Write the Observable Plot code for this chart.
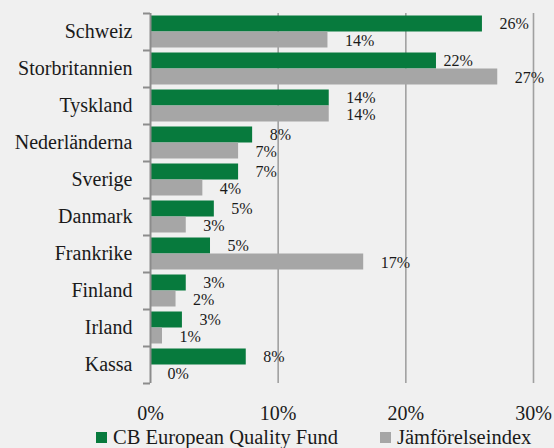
<!DOCTYPE html>
<html><head><meta charset="utf-8">
<script src="https://cdn.jsdelivr.net/npm/d3@7"></script>
<script src="https://cdn.jsdelivr.net/npm/@observablehq/plot@0.6"></script>
<style>
body{margin:0;background:#f0f0f0;font-family:"Liberation Serif",serif;}
#chart svg{display:block;}
.legend{display:flex;align-items:center;padding-left:96px;height:23px;line-height:23px;font-size:20.5px;color:#1a1a1a;}
.sw{display:inline-block;width:11px;height:11px;margin-right:6px;}
</style></head><body>
<div id="chart"></div>
<div class="legend">
  <span class="sw" style="background:#077a3d"></span><span id="l1"></span>
  <span class="sw" style="background:#a6a6a6;margin-left:42px"></span><span id="l2"></span>
</div>
<script>
const countries = ["Schweiz","Storbritannien","Tyskland","Nederländerna","Sverige","Danmark","Frankrike","Finland","Irland","Kassa"];
const fund = [26.0, 22.4, 14.0, 8.0, 6.9, 5.0, 4.7, 2.8, 2.5, 7.5];
const benchmark = [13.9, 27.2, 14.0, 6.9, 4.1, 2.8, 16.7, 2.0, 0.94, 0];
const seriesNames = ["CB European Quality Fund", "Jämförelseindex"];
const xTicks = [0, 10, 20, 30];

document.getElementById("l1").textContent = seriesNames[0];
document.getElementById("l2").textContent = seriesNames[1];

const data = countries.map((c, i) => ({country: c, fund: fund[i], bench: benchmark[i]}));
const pct = v => Math.round(v) + "%";
const green = "#077a3d", gray = "#a6a6a6", axisGray = "#8c8c8c";

const chart = Plot.plot({
  width: 554,
  height: 426,
  marginTop: 13,
  marginBottom: 43,
  marginLeft: 150,
  marginRight: 21,
  style: {background: "transparent", fontFamily: "'Liberation Serif', serif", color: "#1a1a1a"},
  x: {domain: [0, 30]},
  y: {domain: countries, padding: 0},
  marks: [
    Plot.ruleX(xTicks.slice(1), {stroke: "#a0a0a0", strokeWidth: 1.6}),
    Plot.barX(data, {y: "country", x: "fund", fill: green, insetTop: 2.5, insetBottom: 18.5}),
    Plot.barX(data, {y: "country", x: "bench", fill: gray, insetTop: 18.5, insetBottom: 2.5}),
    Plot.text(data.filter(d => d.country !== "Storbritannien"), {y: "country", x: "fund", text: d => pct(d.fund), dx: 17, dy: -8.5, textAnchor: "start", fontSize: 16}),
    Plot.text(data.filter(d => d.country === "Storbritannien"), {y: "country", x: "fund", text: d => pct(d.fund), dx: 7, dy: -8.5, textAnchor: "start", fontSize: 16}),
    Plot.text(data, {y: "country", x: "bench", text: d => pct(d.bench), dx: 17, dy: 8.5, textAnchor: "start", fontSize: 16}),
    Plot.ruleX([0], {stroke: axisGray, strokeWidth: 2}),
    Plot.axisY({tickSize: 0, tickPadding: 18, fontSize: 20, label: null}),
    Plot.axisY({tickSize: 7, tickFormat: () => "", dy: -18.5, stroke: axisGray, strokeWidth: 2, label: null}),
    Plot.axisY({ticks: [countries[countries.length - 1]], tickSize: 7, tickFormat: () => "", dy: 18.5, stroke: axisGray, strokeWidth: 2, label: null}),
    Plot.axisX({ticks: xTicks, tickFormat: d => d + "%", tickSize: 0, tickPadding: 22, fontSize: 20, label: null})
  ]
});
document.getElementById("chart").appendChild(chart);
</script>
</body></html>
